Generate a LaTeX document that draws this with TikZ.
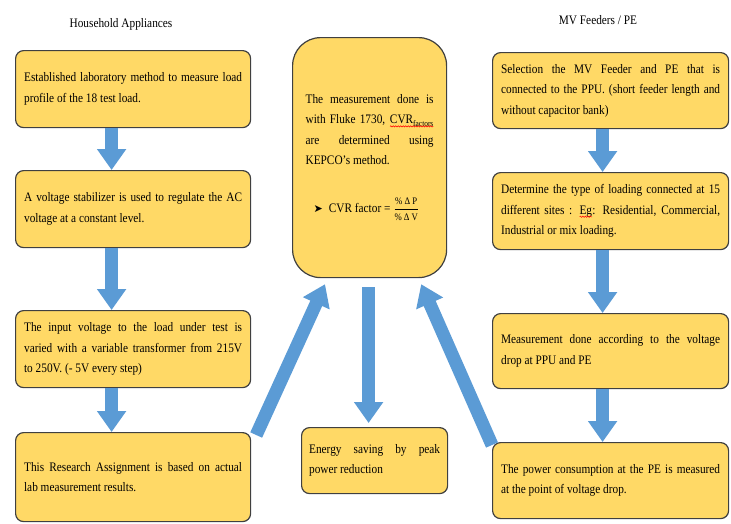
\documentclass[tikz,border=0pt]{standalone}
\usepackage{amsmath}
\usepackage{fontspec}
\setmainfont{Liberation Serif}[FakeStretch=0.87]
\newfontfamily\dingfont{DejaVu Sans}
\usepackage{tikz}
\usetikzlibrary{arrows.meta, calc, decorations.pathmorphing}
\definecolor{boxfill}{HTML}{FFD966}
\definecolor{boxline}{HTML}{404040}
\definecolor{flowblue}{HTML}{5B9BD5}
\newcommand{\spellwave}[1]{\tikz[baseline=(w.base)]{\node[inner sep=0pt, outer sep=0pt, draw=none, fill=none, text width=, minimum height=0pt, minimum width=0pt, align=left, rounded corners=0pt] (w) {#1}; \draw[red, line width=0.5pt, rounded corners=0pt, decorate, decoration={snake, amplitude=0.7pt, segment length=2.5pt}] ([yshift=-2.5pt]w.base west) -- ([yshift=-2.5pt]w.base east);}}
\newcommand{\nohyph}{\hyphenpenalty=10000\relax\tolerance=9999\relax}
\tikzstyle{stage} = [draw=boxline, line width=1.2pt, fill=boxfill, rounded corners=8pt, anchor=north west, align=justify, inner xsep=8.5pt, font=\fontsize{13}{20.5}\selectfont\nohyph]
\tikzstyle{flow} = [draw=flowblue, line width=13pt, -{Triangle[length=21pt,width=28pt]}]
\tikzstyle{heading} = [font=\fontsize{13}{16}\selectfont]

\begin{document}
\begin{tikzpicture}[x=1pt,y=-1pt]
	\fill[white] (0,0) rectangle (731,523);
	\node[heading] (hhead) at (121,24) {Household Appliances};
	\node[heading] (mhead) at (598,20) {MV Feeders / PE};
	\node[stage, text width=218pt, minimum height=77pt] (ha) at (15,50) {Established laboratory method to measure load\linebreak profile of the 18 test load.};
	\node[stage, text width=218pt, minimum height=77pt] (hb) at (15,170) {A voltage stabilizer is used to regulate the AC\linebreak voltage at a constant level.};
	\node[stage, text width=218pt, minimum height=77pt] (hc) at (15,310) {The input voltage to the load under test is\linebreak varied with a variable transformer from 215V\linebreak to 250V. (- 5V every step)};
	\node[stage, text width=218pt, minimum height=89pt] (hd) at (15,432) {This Research Assignment is based on actual\linebreak lab measurement results.};
	\node[stage, text width=219pt, minimum height=76pt] (ma) at (492,52) {Selection the MV Feeder and PE that is\linebreak connected to the PPU. (short feeder length and\linebreak without capacitor bank)};
	\node[stage, text width=219pt, minimum height=77pt] (mb) at (492,172) {Determine the type of loading connected at 15\linebreak different sites : \spellwave{Eg}: Residential, Commercial,\linebreak Industrial or mix loading.};
	\node[stage, text width=219pt, minimum height=75pt] (mc) at (492,313) {Measurement done according to the voltage\linebreak drop at PPU and PE};
	\node[stage, text width=219pt, minimum height=76pt] (md) at (492,442) {The power consumption at the PE is measured\linebreak at the point of voltage drop.};
	\node[stage, rounded corners=28pt, text width=128pt, inner xsep=13pt, minimum height=240pt] (cvr) at (292,37) {The measurement done is\linebreak with Fluke 1730, \spellwave{CVR\raisebox{-2.5pt}{\fontsize{8.5}{8.5}\selectfont factors}}\linebreak are determined using\linebreak KEPCO’s method.\par\vspace{27pt}
		\hspace*{8pt}{\dingfont\fontsize{11}{11}\selectfont ➤}\hspace{6pt}CVR factor = $\dfrac{\text{\fontsize{10}{10}\selectfont\% Δ P}}{\text{\fontsize{10}{10}\selectfont\% Δ V}}$};
	\node[stage, text width=131pt, inner xsep=7.5pt, minimum height=66pt] (energy) at (301,427) {Energy saving by peak\linebreak power reduction};
	\draw[flow] ([xshift=-21.5pt]ha.south) -- ([xshift=-21.5pt]hb.north);
	\draw[flow] ([xshift=-21.5pt]hb.south) -- ([xshift=-21.5pt]hc.north);
	\draw[flow] ([xshift=-21.5pt]hc.south) -- ([xshift=-21.5pt]hd.north);
	\draw[flow] ([xshift=-8pt]ma.south) -- ([xshift=-8pt]mb.north);
	\draw[flow] ([xshift=-8pt]mb.south) -- ([xshift=-8pt]mc.north);
	\draw[flow] ([xshift=-8pt]mc.south) -- ([xshift=-8pt]md.north);
	\draw[flow] ($(cvr.south)+(-1,9)$) -- ($(cvr.south |- energy.north)+(-1,-4)$);
	\draw[flow] ($(hd.north east)+(5,3)$) -- ($(cvr.south west)+(33,6)$);
	\draw[flow] ($(md.north west)+(0,3)$) -- ($(cvr.south east)+(-26,6)$);
\end{tikzpicture}
\end{document}
